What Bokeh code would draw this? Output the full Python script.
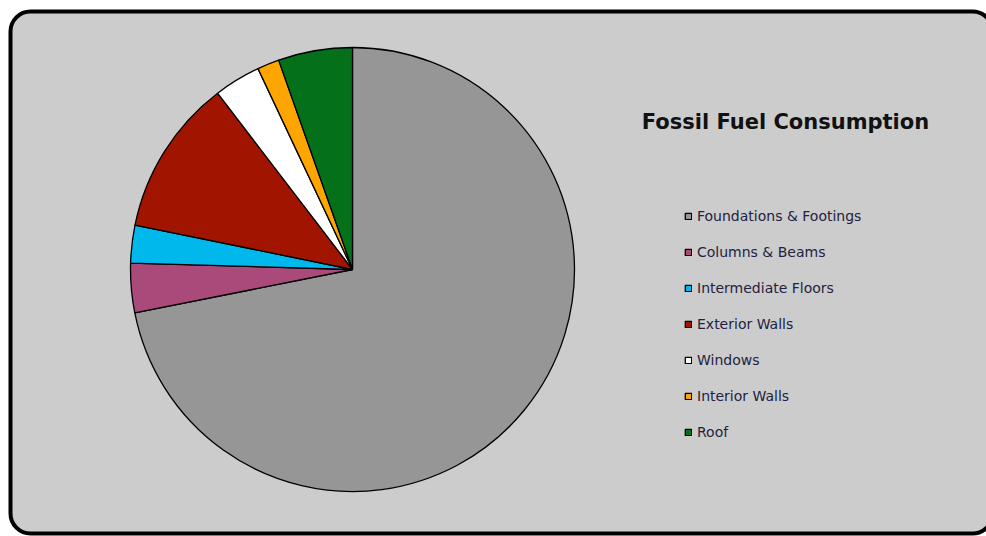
import numpy as np
import pandas as pd
from bokeh.plotting import figure
from bokeh.models import ColumnDataSource, Legend, LegendItem, Label, BoxAnnotation, Range1d
from bokeh.embed import file_html
from bokeh.resources import INLINE

categories = ["Foundations & Footings", "Columns & Beams", "Intermediate Floors",
              "Exterior Walls", "Windows", "Interior Walls", "Roof"]
values = [71.9, 3.6, 2.75, 11.4, 3.4, 1.6, 5.4]
colors = ["#969696", "#AA4A7B", "#00B8EC", "#A11500", "#FFFFFF", "#FFA500", "#05701A"]
title_text = "Fossil Fuel Consumption"

W, H = 986, 536
cx, cy, R = 352, 269, 222

df = pd.DataFrame({"cat": categories, "val": values, "color": colors})
frac = df["val"] / df["val"].sum()
cum_end = frac.cumsum()
cum_start = cum_end - frac
# clockwise from 12 o'clock
df["start"] = np.pi / 2 - cum_end * 2 * np.pi
df["end"] = np.pi / 2 - cum_start * 2 * np.pi
source = ColumnDataSource(df)

p = figure(width=W, height=H, output_backend="svg", toolbar_location=None,
           x_range=Range1d(-cx, W - cx), y_range=Range1d(-(H - cy), cy),
           min_border=0, outline_line_color=None,
           background_fill_color="white", border_fill_color="white")
p.axis.visible = False
p.grid.visible = False

frame = BoxAnnotation(left=10 - cx, right=992 - cx, top=cy - 11, bottom=cy - 533,
                      fill_color="#CCCCCC", fill_alpha=1.0, line_color="black",
                      line_alpha=1.0, line_width=4, border_radius=20, level="underlay")
p.add_layout(frame)

r = p.wedge(x=0, y=0, radius=R, start_angle="start", end_angle="end",
            fill_color="color", line_color="black", line_width=1.3, source=source)

items = [LegendItem(label=c, renderers=[r], index=i) for i, c in enumerate(categories)]
legend = Legend(items=items, location=(684, 94), orientation="vertical",
                background_fill_alpha=0, border_line_color=None,
                label_text_font="DejaVu Sans", label_text_font_size="14px",
                label_text_color="#222240", glyph_width=8, glyph_height=8,
                label_standoff=5, label_height=20, spacing=16, padding=0, margin=0)
p.add_layout(legend)

p.add_layout(Label(x=785 - cx, y=cy - 121, text=title_text, text_align="center",
                   text_baseline="middle", text_font="DejaVu Sans",
                   text_font_style="bold", text_font_size="21px", text_color="#111111"))

open("out.html", "w").write(file_html(p, INLINE))
